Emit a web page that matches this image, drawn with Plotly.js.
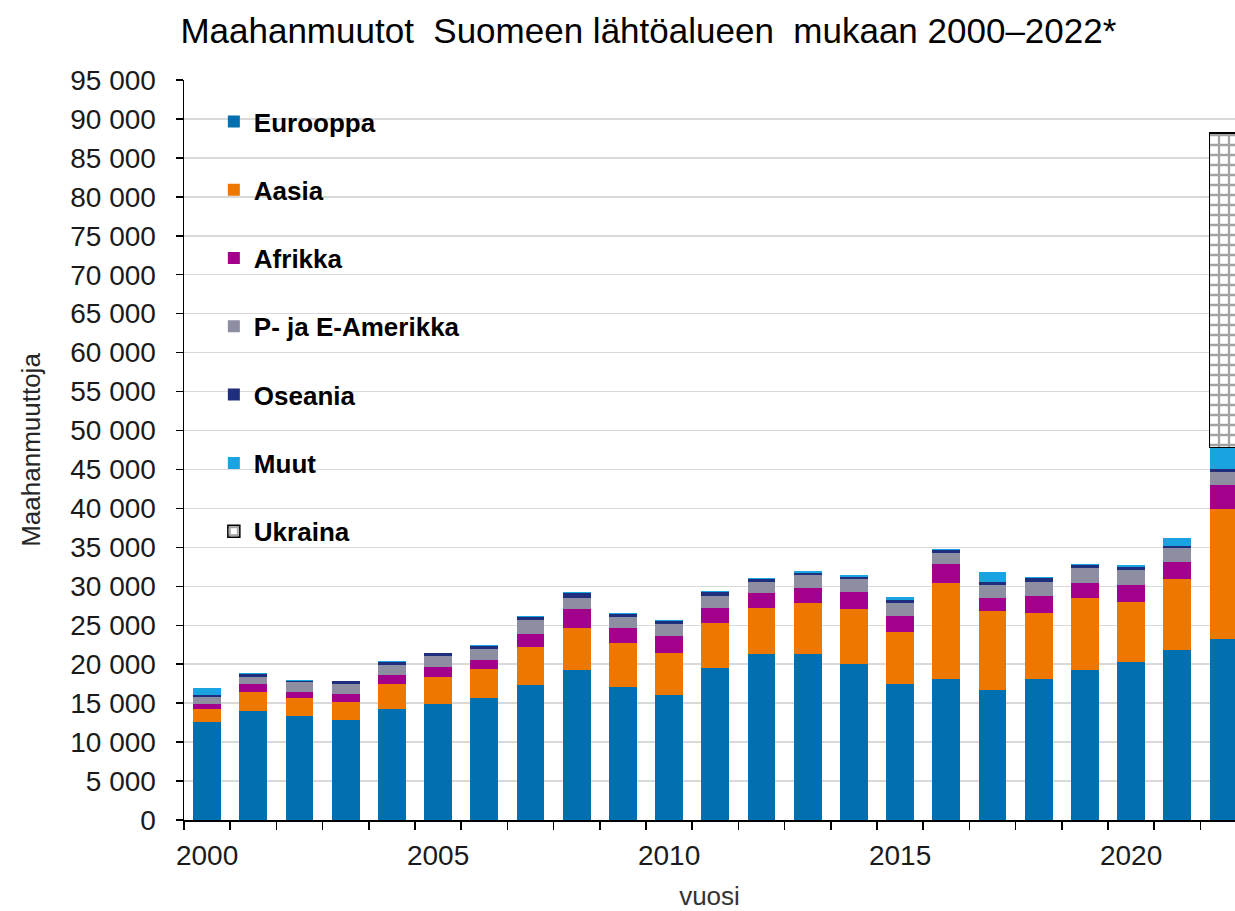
<!DOCTYPE html>
<html>
<head>
<meta charset="utf-8">
<script src="https://cdn.plot.ly/plotly-3.0.1.min.js"></script>
<style>
html,body{margin:0;padding:0;background:#fff;}
#chart{width:1235px;height:911px;}
</style>
</head>
<body>
<div id="chart"></div>
<script>
const years = [2000,2001,2002,2003,2004,2005,2006,2007,2008,2009,2010,2011,2012,2013,2014,2015,2016,2017,2018,2019,2020,2021,2022];
const eurooppa = [12600,14000,13300,12800,14250,14900,15700,17300,19300,17100,16100,19550,21250,21250,20000,17400,18150,16650,18150,19250,20250,21800,23250];
const aasia    = [1650,2400,2400,2400,3150,3500,3650,4950,5300,5600,5350,5800,6000,6600,7050,6700,12250,10200,8400,9200,7800,9100,16650];
const afrikka  = [600,1000,700,1000,1200,1200,1150,1650,2450,1900,2150,1900,1950,1900,2200,2150,2450,1650,2150,1950,2150,2200,3050];
const amerikka = [1000,1000,1300,1300,1300,1450,1500,1800,1500,1400,1500,1500,1400,1700,1650,1550,1450,1700,1800,1950,1950,1850,1700];
const oseania  = [200,300,200,300,350,350,350,350,550,450,400,500,350,300,350,400,350,300,550,350,350,250,450];
const muut     = [850,150,100,100,100,100,100,150,150,150,150,150,150,180,150,450,150,1400,150,150,300,1000,2750];
const ukraina  = [null,null,null,null,null,null,null,null,null,null,null,null,null,null,null,null,null,null,null,null,null,null,40350];
const xTickVals = [2000,2005,2010,2015,2020];
const xTickText = ['2000','2005','2010','2015','2020'];

const series = [
  {name:'Eurooppa', y:eurooppa, color:'#0070B0'},
  {name:'Aasia', y:aasia, color:'#EE7700'},
  {name:'Afrikka', y:afrikka, color:'#A3008C'},
  {name:'P- ja E-Amerikka', y:amerikka, color:'#8E8EA2'},
  {name:'Oseania', y:oseania, color:'#202E7E'},
  {name:'Muut', y:muut, color:'#19A3E0'}
];

const traces = series.map((s,i) => ({
  type:'bar', x:years, y:s.y, name:s.name, legendgroup:'g'+i,
  marker:{color:s.color, line:{width:0}},
  hoverinfo:'x+y+name'
}));
traces.push({
  type:'bar', x:years, y:ukraina, name:'Ukraina', legendgroup:'g6',
  marker:{color:'#ffffff', line:{color:'#000000', width:1.5},
    pattern:{shape:'+', fgcolor:'#a3a3a3', bgcolor:'#ffffff', size:10, solidity:0.4}}
});

const layout = {
  width:1235, height:911,
  margin:{l:184, r:0, t:80, b:91},
  paper_bgcolor:'#ffffff', plot_bgcolor:'#ffffff',
  barmode:'stack', bargap:0.4,
  separators:', ',
  font:{family:'Liberation Sans, Arial, sans-serif', color:'#000000'},
  title:{text:'Maahanmuutot\u00a0 Suomeen lähtöalueen\u00a0 mukaan 2000–2022*',
    font:{size:35, color:'#000000'}, xref:'container', x:0.525, xanchor:'center', yref:'container', y:0.966, yanchor:'middle'},
  xaxis:{
    range:[1999.5, 2022.25], tickvals:xTickVals, ticktext:xTickText, ticks:'',
    tickfont:{size:28, color:'#1a1a1a'}, ticklabelstandoff:10,
    showgrid:false, zeroline:false, showline:true, linecolor:'#000000', linewidth:1.5,
    minor:{tick0:1999.5, dtick:1, ticks:'outside', ticklen:8, tickwidth:1.5, tickcolor:'#000000', showgrid:false},
    title:{text:'vuosi', font:{size:26, color:'#333333'}, standoff:19}
  },
  yaxis:{
    range:[0,95000], dtick:5000, tickformat:',d',
    ticks:'outside', ticklen:7, tickwidth:1.5, tickcolor:'#000000',
    tickfont:{size:28, color:'#1a1a1a'}, ticklabelstandoff:14,
    showgrid:true, gridcolor:'#d9d9d9', gridwidth:1.5,
    zeroline:false, showline:true, linecolor:'#000000', linewidth:1.5,
    title:{text:'Maahanmuuttoja', font:{size:26, color:'#262626'}, standoff:22}
  },
  legend:{
    x:0.0284, y:0.9757, xanchor:'left', yanchor:'top',
    bgcolor:'rgba(0,0,0,0)', traceorder:'grouped', tracegroupgap:31.5,
    font:{size:26, color:'#000000', weight:'bold'}, itemwidth:30
  },
  showlegend:true
};

Plotly.newPlot('chart', traces, layout, {staticPlot:true, displayModeBar:false});
</script>
</body>
</html>
